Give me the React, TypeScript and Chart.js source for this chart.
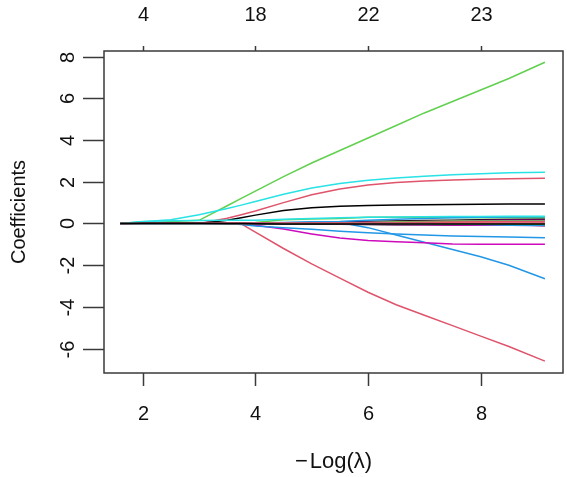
import React, { useEffect, useRef } from "react";
import { Chart, registerables } from "chart.js";

Chart.register(...registerables);

// -log(lambda) grid at which the coefficient paths are sampled
const negLogLambda = [1.6, 2.0, 2.5, 3.0, 3.5, 3.75, 4.0, 4.5, 5.0, 5.5, 6.0, 6.5, 7.0, 7.5, 8.0, 8.5, 9.14];

// axis ticks and labels
const xTickValues = [2, 4, 6, 8];
const dfTickLabels = ["4", "18", "22", "23"];
const yTickValues = [-6, -4, -2, 0, 2, 4, 6, 8];

// coefficient paths (one per predictor)
const coefGreenUp = [0, 0, 0.1, 0.15, 0.85, 1.2, 1.55, 2.25, 2.9, 3.5, 4.1, 4.7, 5.3, 5.85, 6.4, 6.95, 7.73];
const coefCyanUp = [0, 0.08, 0.18, 0.42, 0.72, 0.88, 1.05, 1.4, 1.7, 1.92, 2.07, 2.18, 2.27, 2.34, 2.39, 2.43, 2.46];
const coefRedUp = [0, 0, 0, 0, 0.25, 0.42, 0.6, 1.0, 1.38, 1.65, 1.85, 1.97, 2.04, 2.09, 2.12, 2.15, 2.17];
const coefBlackUp = [0, 0, 0, 0, 0.15, 0.27, 0.4, 0.62, 0.75, 0.83, 0.86, 0.88, 0.9, 0.91, 0.92, 0.93, 0.93];
const coefRedDown = [0, 0, 0, 0, 0, -0.02, -0.42, -1.2, -1.94, -2.62, -3.3, -3.9, -4.4, -4.9, -5.4, -5.9, -6.6];
const coefBlueDown = [0, 0, 0, 0, 0, 0, 0, 0.03, 0.05, 0.05, -0.2, -0.55, -0.9, -1.25, -1.6, -2.0, -2.65];
const coefBlueMid = [0, 0, 0, 0, 0, -0.05, -0.12, -0.2, -0.28, -0.37, -0.44, -0.5, -0.55, -0.6, -0.63, -0.65, -0.68];
const coefMagentaDown = [0, 0, 0, 0, 0, -0.02, -0.08, -0.27, -0.5, -0.7, -0.82, -0.88, -0.93, -0.98, -1.0, -1.0, -1.0];
const coefCyanSmall = [0, 0.1, 0.13, 0.14, 0.15, 0.15, 0.16, 0.2, 0.24, 0.28, 0.3, 0.31, 0.32, 0.33, 0.34, 0.35, 0.35];
const coefGreenSmall = [0, 0, 0, 0, 0, 0.02, 0.05, 0.18, 0.22, 0.24, 0.3, 0.3, 0.3, 0.29, 0.28, 0.28, 0.28];
const coefBlueSmall = [0, 0, 0, 0, 0, 0.01, 0.02, 0.05, 0.08, 0.1, 0.15, 0.2, 0.24, 0.27, 0.3, 0.31, 0.32];
const coefBlackSmall = [0, 0, 0, 0, 0, 0, 0, 0.02, 0.05, 0.08, 0.1, 0.12, 0.14, 0.16, 0.18, 0.19, 0.2];
const coefMagentaSmall = [0, 0, 0, 0, 0, 0, 0, 0, 0.02, 0.04, 0.06, 0.08, 0.1, 0.12, 0.14, 0.15, 0.15];
const coefRedSmall = [0, 0, 0, 0, 0, 0, 0, 0, 0, 0.02, 0.04, 0.05, 0.06, 0.07, 0.08, 0.08, 0.08];
const coefBlackNeg = [0, 0, 0, 0, 0, 0, 0, -0.02, -0.03, -0.04, -0.05, -0.06, -0.06, -0.07, -0.07, -0.08, -0.08];
const coefRedLate = [0, 0, 0, 0, 0, 0, 0, 0, 0, 0, 0, 0, 0, 0, 0, -0.02, -0.12];
const coefGreenNeg = [0, 0, 0, 0, 0, 0, 0, 0, 0, 0, 0, 0, -0.01, -0.02, -0.03, -0.03, -0.04];
const coefRedEarly = [0, 0.01, 0.02, 0.02, 0.02, 0.02, 0.02, 0.02, 0.02, 0.02, 0.02, 0.02, 0.02, 0.02, 0.02, 0.02, 0.02];
const coefBlackEarly = [0, 0.005, 0.01, 0.01, 0, -0.005, -0.01, -0.02, -0.02, -0.03, -0.03, -0.03, -0.03, -0.03, -0.03, -0.03, -0.03];
const coefMagentaNeg = [0, 0, 0, 0, 0, 0, 0, 0, 0, -0.02, -0.04, -0.05, -0.06, -0.07, -0.08, -0.09, -0.1];
const coefBlueNeg = [0, 0, 0, 0, 0, 0, 0, 0, 0, 0, 0, 0, 0, -0.02, -0.05, -0.08, -0.1];
const coefGreenTiny = [0, 0, 0, 0, 0, 0, 0, 0, 0, 0, 0.05, 0.08, 0.1, 0.12, 0.12, 0.12, 0.12];

const BLACK = "#000000";
const RED = "#DF536B";
const GREEN = "#61D04F";
const BLUE = "#2297E6";
const CYAN = "#28E2E5";
const MAGENTA = "#CD0BBC";

const paths: { values: number[]; color: string }[] = [
  { values: coefBlackEarly, color: BLACK },
  { values: coefRedEarly, color: RED },
  { values: coefGreenNeg, color: GREEN },
  { values: coefBlueNeg, color: BLUE },
  { values: coefCyanSmall, color: CYAN },
  { values: coefMagentaNeg, color: MAGENTA },
  { values: coefBlackNeg, color: BLACK },
  { values: coefRedSmall, color: RED },
  { values: coefGreenTiny, color: GREEN },
  { values: coefBlueSmall, color: BLUE },
  { values: coefMagentaSmall, color: MAGENTA },
  { values: coefBlackSmall, color: BLACK },
  { values: coefRedLate, color: RED },
  { values: coefGreenSmall, color: GREEN },
  { values: coefBlueMid, color: BLUE },
  { values: coefMagentaDown, color: MAGENTA },
  { values: coefBlackUp, color: BLACK },
  { values: coefRedUp, color: RED },
  { values: coefBlueDown, color: BLUE },
  { values: coefRedDown, color: RED },
  { values: coefCyanUp, color: CYAN },
  { values: coefGreenUp, color: GREEN },
];

const FONT = '"Liberation Sans", Arial, sans-serif';

// R-style box, detached ticks and rotated labels, drawn from the chart's scales
const baseAxesPlugin = {
  id: "baseAxes",
  afterDraw(chart: any) {
    const { ctx, chartArea: a } = chart;
    const xs = chart.scales.x;
    const ys = chart.scales.y;
    ctx.save();
    ctx.strokeStyle = "#3a3a3a";
    ctx.lineWidth = 1.5;
    ctx.strokeRect(a.left, a.top, a.right - a.left, a.bottom - a.top);

    const seg = (x1: number, y1: number, x2: number, y2: number) => {
      ctx.beginPath();
      ctx.moveTo(x1, y1);
      ctx.lineTo(x2, y2);
      ctx.stroke();
    };

    ctx.fillStyle = "#111";
    ctx.font = `20px ${FONT}`;
    ctx.textAlign = "center";
    ctx.textBaseline = "middle";

    xTickValues.forEach((v, i) => {
      const px = Math.round(xs.getPixelForValue(v)) + 0.5;
      seg(px, a.bottom, px, a.bottom + 13);
      ctx.fillText(String(v), px, 414);
      seg(px, a.top - 5, px, a.top);
      ctx.fillText(dfTickLabels[i], px, 15);
    });

    yTickValues.forEach((v) => {
      const py = Math.round(ys.getPixelForValue(v)) + 0.5;
      seg(a.left - 21, py, a.left, py);
      ctx.save();
      ctx.translate(68, py);
      ctx.rotate(-Math.PI / 2);
      ctx.fillText(String(v), 0, 0);
      ctx.restore();
    });

    // x-axis title: unary minus set apart, then Log(lambda)
    const cx = (a.left + a.right) / 2;
    ctx.font = `22px ${FONT}`;
    ctx.textAlign = "left";
    const body = "Log(\u03bb)";
    const minusW = ctx.measureText("\u2212").width;
    const bodyW = ctx.measureText(body).width;
    const gap = 2;
    const startX = cx - (minusW + gap + bodyW) / 2;
    ctx.fillText("\u2212", startX, 462);
    ctx.fillText(body, startX + minusW + gap, 462);

    ctx.font = `20px ${FONT}`;
    ctx.textAlign = "center";
    ctx.save();
    ctx.translate(19, (a.top + a.bottom) / 2);
    ctx.rotate(-Math.PI / 2);
    ctx.fillText("Coefficients", 0, 0);
    ctx.restore();
    ctx.restore();
  },
};

export default function App() {
  const canvasRef = useRef<HTMLCanvasElement | null>(null);

  useEffect(() => {
    if (!canvasRef.current) return;
    const chart = new Chart(canvasRef.current, {
      type: "line",
      data: {
        datasets: paths.map((p, i) => ({
          label: `V${i + 1}`,
          data: negLogLambda.map((x, j) => ({ x, y: p.values[j] })),
          borderColor: p.color,
          borderWidth: 1.5,
          pointRadius: 0,
          tension: 0,
          fill: false,
        })),
      },
      options: {
        responsive: false,
        animation: false,
        events: [],
        layout: { padding: { left: 104, top: 51, right: 4, bottom: 104 } },
        scales: {
          x: { type: "linear", min: 1.313, max: 9.461, display: false },
          y: { type: "linear", min: -7.17, max: 8.27, display: false },
        },
        plugins: { legend: { display: false }, tooltip: { enabled: false } },
      },
      plugins: [baseAxesPlugin],
    });
    return () => chart.destroy();
  }, []);

  return (
    <div style={{ position: "fixed", left: 0, top: 0, width: 567, height: 477, background: "#fff" }}>
      <canvas ref={canvasRef} width={567} height={477} style={{ width: 567, height: 477 }} />
    </div>
  );
}
